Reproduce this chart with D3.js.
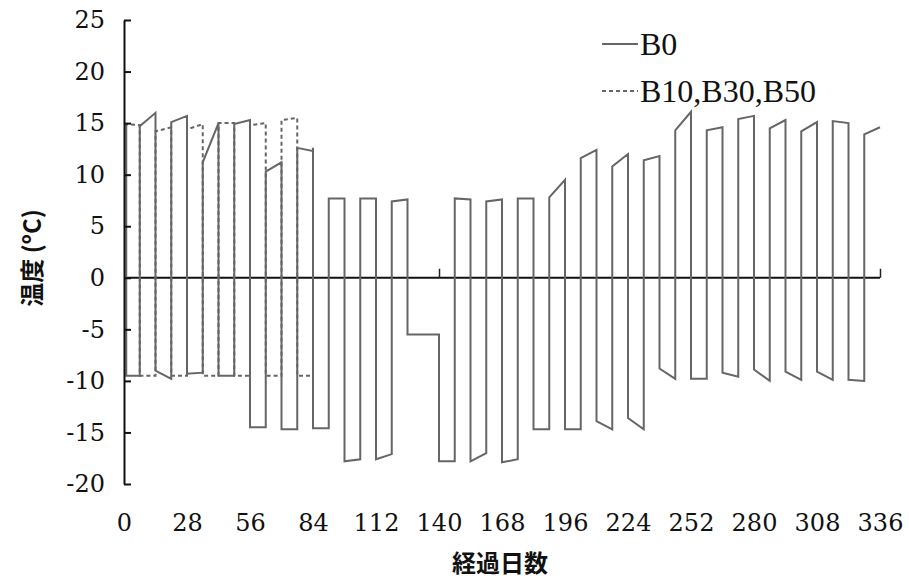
<!DOCTYPE html>
<html><head><meta charset="utf-8">
<script src="https://cdn.jsdelivr.net/npm/d3@7"></script>
<style>body{margin:0;background:#fff}</style>
</head><body>
<svg id="c" width="909" height="584"></svg>
<script>
// ---- data ----
const xTicks = [0,28,56,84,112,140,168,196,224,252,280,308,336];
const yTicks = [-20,-15,-10,-5,0,5,10,15,20,25];
const seriesNames = ["B0","B10,B30,B50"];
const b0Days = [0,1,1,7,7,14,14,21,21,28,28,35,35,42,42,49,49,56,56,63,63,70,70,77,77,84,84,91,91,98,98,105,105,112,112,119,119,126,126,140,140,147,147,154,154,161,161,168,168,175,175,182,182,189,189,196,196,203,203,210,210,217,217,224,224,231,231,238,238,245,245,252,252,259,259,266,266,273,273,280,280,287,287,294,294,301,301,308,308,315,315,322,322,329,329,336];
const b0Temps = [14.9,14.9,-9.5,-9.5,14.7,16.0,-9.0,-9.8,15.1,15.7,-9.3,-9.2,11.2,15.0,-9.5,-9.5,14.9,15.3,-14.5,-14.5,10.3,11.2,-14.7,-14.7,12.6,12.3,-14.6,-14.6,7.7,7.7,-17.8,-17.6,7.7,7.7,-17.6,-17.1,7.4,7.6,-5.5,-5.5,-17.8,-17.8,7.7,7.6,-17.8,-17.0,7.4,7.6,-17.9,-17.6,7.7,7.7,-14.7,-14.7,7.8,9.5,-14.7,-14.7,11.6,12.4,-13.9,-14.7,10.8,12.0,-13.6,-14.7,11.4,11.8,-8.8,-9.8,14.3,16.1,-9.8,-9.8,14.3,14.6,-9.2,-9.6,15.4,15.7,-8.9,-10.0,14.5,15.3,-9.1,-9.9,14.2,15.1,-9.1,-9.9,15.2,15.0,-9.9,-10.0,13.9,14.6];
const bxDays = [0,7,7,14,14,21,21,28,28,35,35,42,42,49,49,56,56,63,63,70,70,77,77,84,84];
const bxTemps = [14.9,14.8,-9.5,-9.5,14.2,14.6,-9.5,-9.5,14.4,14.9,-9.5,-9.5,15.0,15.0,-9.5,-9.5,14.8,15.0,-9.5,-9.5,15.3,15.5,-9.5,-9.5,12.7];
const xTitle = "経過日数";
const yTitle = "温度 (ºC)";

// ---- drawing ----
const svg = d3.select("#c");
const x = d3.scaleLinear().domain([0,336]).range([124,880]);
const y = d3.scaleLinear().domain([-20,25]).range([484,20]);
const serif = "'Liberation Serif','Times New Roman',serif";
const tickFont = "'DejaVu Serif',serif";
const gray = "#666";
const fmt = v => String(v); // plain hyphen-minus

const line = d3.line().x(d=>x(d[0])).y(d=>y(d[1]));
const b0 = b0Days.map((d,i)=>[d,b0Temps[i]]);
const bx = bxDays.map((d,i)=>[d,bxTemps[i]]);

// zero line (x axis)
svg.append("path").datum([[0,0],[336,0]]).attr("d",line)
  .attr("stroke","#111").attr("stroke-width",2).attr("fill","none");
const tickAx = svg.append("g").attr("transform",`translate(0,${y(0)})`)
  .call(d3.axisTop(x).tickValues([140,336]).tickSize(9).tickFormat(""));
tickAx.select(".domain").remove();
tickAx.selectAll("line").attr("stroke","#222").attr("stroke-width",1.5);

// series
svg.append("path").datum(bx).attr("d",line).attr("fill","none")
  .attr("stroke",gray).attr("stroke-width",2).attr("stroke-dasharray","4,3");
svg.append("path").datum(b0).attr("d",line).attr("fill","none")
  .attr("stroke",gray).attr("stroke-width",2);

// y axis
const ya = svg.append("g").attr("transform",`translate(${x(0)},0)`)
  .call(d3.axisLeft(y).tickValues(yTicks).tickFormat(fmt).tickSize(-7).tickSizeOuter(0).tickPadding(19));
ya.select(".domain").attr("stroke","#111").attr("stroke-width",2);
ya.selectAll(".tick line").attr("stroke","#111").attr("stroke-width",2);
ya.selectAll("text").attr("font-family",tickFont).attr("font-size",24).attr("fill","#111");

// x tick labels
const xa = svg.append("g").attr("transform",`translate(0,${y(-20)})`)
  .call(d3.axisBottom(x).tickValues(xTicks).tickFormat(fmt).tickSize(0).tickPadding(30));
xa.select(".domain").remove();
xa.selectAll("text").attr("font-family",tickFont).attr("font-size",24).attr("fill","#111");

// titles
svg.append("text").attr("x",500).attr("y",572).attr("text-anchor","middle")
  .attr("font-family","'Noto Sans CJK JP',sans-serif").attr("font-weight","bold")
  .attr("font-size",24).attr("fill","#111").text(xTitle);
svg.append("text").attr("transform","translate(41,258) rotate(-90)").attr("text-anchor","middle")
  .attr("font-family","'Noto Sans CJK JP',sans-serif").attr("font-weight","bold")
  .attr("font-size",24).attr("fill","#111").text(yTitle);

// legend
const lg = svg.append("g");
const legendY = [44,91];
seriesNames.forEach((n,i)=>{
  lg.append("line").attr("x1",602).attr("x2",638).attr("y1",legendY[i]).attr("y2",legendY[i])
    .attr("stroke",gray).attr("stroke-width",2).attr("stroke-dasharray",i? "4,3":null);
  lg.append("text").attr("x",640).attr("y",legendY[i]+11).attr("font-family",serif)
    .attr("font-size",32).attr("fill","#111").text(n);
});
</script>
</body></html>
